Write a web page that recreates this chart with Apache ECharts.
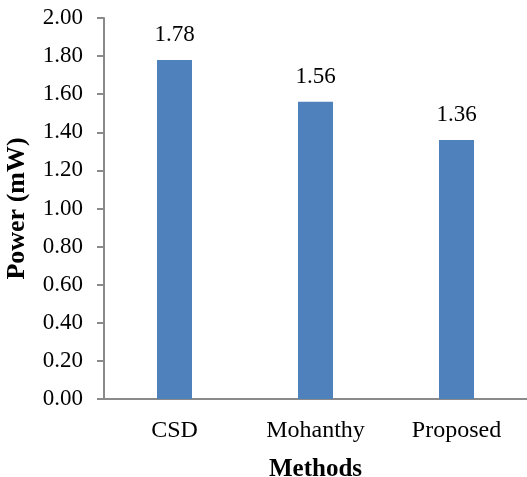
<!DOCTYPE html>
<html>
<head>
<meta charset="utf-8">
<script src="https://cdn.jsdelivr.net/npm/echarts@6/dist/echarts.min.js"></script>
<style>
html,body{margin:0;padding:0;background:#fff;}
#chart{width:527px;height:477px;}
</style>
</head>
<body>
<div id="chart"></div>
<script>
var categories = ["CSD", "Mohanthy", "Proposed"];
var powerValues = [1.78, 1.56, 1.36];
var yTicks = { min: 0, max: 2, interval: 0.2 };

var FONT = '"Liberation Serif", "Times New Roman", serif';
var chart = echarts.init(document.getElementById('chart'), null, { renderer: 'canvas' });
chart.setOption({
  animation: false,
  backgroundColor: '#ffffff',
  grid: { left: 104, right: 0, top: 18, bottom: 78, containLabel: false, outerBoundsMode: 'none' },
  xAxis: {
    type: 'category',
    data: categories,
    name: 'Methods',
    nameLocation: 'middle',
    nameGap: 58,
    nameTextStyle: { fontFamily: FONT, fontSize: 25, fontWeight: 'bold', color: '#000' },
    axisLine: { lineStyle: { color: '#8a8a8a', width: 2 } },
    axisTick: { show: false },
    axisLabel: { fontFamily: FONT, fontSize: 24, color: '#000', margin: 20 }
  },
  yAxis: {
    type: 'value',
    min: yTicks.min,
    max: yTicks.max,
    interval: yTicks.interval,
    name: 'Power (mW)',
    nameLocation: 'middle',
    nameGap: 74,
    nameRotate: 90,
    nameTextStyle: { fontFamily: FONT, fontSize: 26, fontWeight: 'bold', color: '#000' },
    axisLine: { show: true, lineStyle: { color: '#8a8a8a', width: 2 } },
    axisTick: { show: true, length: 7, lineStyle: { color: '#8a8a8a', width: 2 } },
    splitLine: { show: false },
    axisLabel: {
      fontFamily: FONT, fontSize: 23, color: '#000', margin: 21,
      formatter: function (v) { return v.toFixed(2); }
    }
  },
  series: [{
    type: 'bar',
    data: powerValues,
    barWidth: 35,
    itemStyle: { color: '#4f81bd' },
    label: {
      show: true, position: 'top', distance: 13,
      fontFamily: FONT, fontSize: 23, color: '#000',
      formatter: function (p) { return p.value.toFixed(2); }
    }
  }]
});
</script>
</body>
</html>
